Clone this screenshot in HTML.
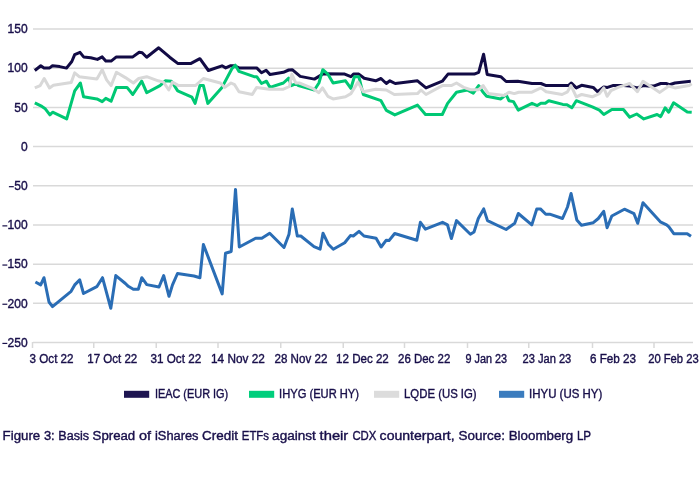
<!DOCTYPE html>
<html><head><meta charset="utf-8"><style>
html,body{margin:0;padding:0;background:#fff;}
body{width:700px;height:479px;overflow:hidden;position:relative;}
svg{position:absolute;left:0;top:0;will-change:transform;}
text{font-family:"Liberation Sans",sans-serif;fill:#180f4a;stroke:#180f4a;stroke-width:0.38px;}
</style></head><body>
<svg width="700" height="479" viewBox="0 0 700 479">

<line x1="33" y1="29.05" x2="693" y2="29.05" stroke="#d9d9d9" stroke-width="1.5"/>
<text id="y150" x="27.60" y="33.25" font-size="12" text-anchor="end">150</text>
<line x1="33" y1="68.23" x2="693" y2="68.23" stroke="#d9d9d9" stroke-width="1.5"/>
<text id="y100" x="27.60" y="72.43" font-size="12" text-anchor="end">100</text>
<line x1="33" y1="107.41" x2="693" y2="107.41" stroke="#d9d9d9" stroke-width="1.5"/>
<text id="y50" x="27.60" y="111.61" font-size="12" text-anchor="end">50</text>
<line x1="33" y1="146.60" x2="693" y2="146.60" stroke="#d9d9d9" stroke-width="1.5"/>
<text id="y0" x="27.60" y="150.80" font-size="12" text-anchor="end">0</text>
<line x1="33" y1="185.78" x2="693" y2="185.78" stroke="#d9d9d9" stroke-width="1.5"/>
<text id="y-50" x="27.60" y="189.98" font-size="12" text-anchor="end">50</text>
<rect x="8.9" y="186.09" width="4.9" height="1.2" fill="#180f4a"/>
<line x1="33" y1="224.97" x2="693" y2="224.97" stroke="#d9d9d9" stroke-width="1.5"/>
<text id="y-100" x="27.60" y="229.17" font-size="12" text-anchor="end">100</text>
<rect x="2.4" y="225.27" width="4.9" height="1.2" fill="#180f4a"/>
<line x1="33" y1="264.15" x2="693" y2="264.15" stroke="#d9d9d9" stroke-width="1.5"/>
<text id="y-150" x="27.60" y="268.35" font-size="12" text-anchor="end">150</text>
<rect x="2.4" y="264.45" width="4.9" height="1.2" fill="#180f4a"/>
<line x1="33" y1="303.34" x2="693" y2="303.34" stroke="#d9d9d9" stroke-width="1.5"/>
<text id="y-200" x="27.60" y="307.54" font-size="12" text-anchor="end">200</text>
<rect x="2.4" y="303.64" width="4.9" height="1.2" fill="#180f4a"/>
<line x1="33" y1="342.52" x2="693" y2="342.52" stroke="#d9d9d9" stroke-width="1.5"/>
<text id="y-250" x="27.60" y="346.72" font-size="12" text-anchor="end">250</text>
<rect x="2.4" y="342.82" width="4.9" height="1.2" fill="#180f4a"/>
<line x1="32.5" y1="342" x2="32.5" y2="348" stroke="#d9d9d9" stroke-width="1.5"/>
<line x1="93.75" y1="342" x2="93.75" y2="348" stroke="#d9d9d9" stroke-width="1.5"/>
<line x1="156.25" y1="342" x2="156.25" y2="348" stroke="#d9d9d9" stroke-width="1.5"/>
<line x1="218" y1="342" x2="218" y2="348" stroke="#d9d9d9" stroke-width="1.5"/>
<line x1="280.75" y1="342" x2="280.75" y2="348" stroke="#d9d9d9" stroke-width="1.5"/>
<line x1="343.25" y1="342" x2="343.25" y2="348" stroke="#d9d9d9" stroke-width="1.5"/>
<line x1="404.5" y1="342" x2="404.5" y2="348" stroke="#d9d9d9" stroke-width="1.5"/>
<line x1="467.5" y1="342" x2="467.5" y2="348" stroke="#d9d9d9" stroke-width="1.5"/>
<line x1="528.75" y1="342" x2="528.75" y2="348" stroke="#d9d9d9" stroke-width="1.5"/>
<line x1="592.5" y1="342" x2="592.5" y2="348" stroke="#d9d9d9" stroke-width="1.5"/>
<line x1="654" y1="342" x2="654" y2="348" stroke="#d9d9d9" stroke-width="1.5"/>
<text id="x0" x="29.60" y="362.60" font-size="12" textLength="43.97" lengthAdjust="spacingAndGlyphs">3 Oct 22</text>
<text id="x1" x="87.25" y="362.60" font-size="12" textLength="50.01" lengthAdjust="spacingAndGlyphs">17 Oct 22</text>
<text id="x2" x="150.51" y="362.60" font-size="12" textLength="50.64" lengthAdjust="spacingAndGlyphs">31 Oct 22</text>
<text id="x3" x="211.02" y="362.60" font-size="12" textLength="53.80" lengthAdjust="spacingAndGlyphs">14 Nov 22</text>
<text id="x4" x="274.52" y="362.60" font-size="12" textLength="52.81" lengthAdjust="spacingAndGlyphs">28 Nov 22</text>
<text id="x5" x="336.04" y="362.60" font-size="12" textLength="52.78" lengthAdjust="spacingAndGlyphs">12 Dec 22</text>
<text id="x6" x="398.00" y="362.60" font-size="12" textLength="52.30" lengthAdjust="spacingAndGlyphs">26 Dec 22</text>
<text id="x7" x="465.54" y="362.60" font-size="12" textLength="41.55" lengthAdjust="spacingAndGlyphs">9 Jan 23</text>
<text id="x8" x="522.53" y="362.60" font-size="12" textLength="48.77" lengthAdjust="spacingAndGlyphs">23 Jan 23</text>
<text id="x9" x="589.95" y="362.60" font-size="12" textLength="46.19" lengthAdjust="spacingAndGlyphs">6 Feb 23</text>
<text id="x10" x="648.20" y="362.60" font-size="12" textLength="50.50" lengthAdjust="spacingAndGlyphs">20 Feb 23</text>
<polyline fill="none" stroke="#120b45" stroke-width="3.0" stroke-linejoin="round" stroke-linecap="butt" points="34.8,70.5 40.8,65.8 44.0,67.9 49.3,68.1 52.5,65.8 59.7,66.6 66.5,68.1 71.8,61.5 74.7,54.7 80.0,52.4 83.6,56.9 90.7,57.8 97.4,59.4 102.2,56.9 105.8,61.1 111.1,61.1 116.4,56.9 132.8,56.9 139.2,52.3 142.2,52.8 146.7,57.2 158.7,47.8 169.7,57.2 177.7,63.4 191.0,63.4 199.9,58.7 208.4,70.5 222.0,65.8 225.7,67.9 230.2,65.8 234.6,65.8 239.0,67.9 256.7,67.9 261.5,72.7 266.1,70.2 270.0,74.6 283.4,72.3 288.7,70.0 292.2,69.7 300.2,76.4 314.4,79.1 319.8,75.9 323.4,73.7 344.7,74.1 350.9,76.7 353.5,74.1 358.8,74.1 364.2,78.2 375.7,80.8 381.0,78.5 386.3,83.5 389.9,80.8 395.2,83.5 417.5,80.8 426.0,87.9 442.3,81.2 448.0,74.1 474.2,74.1 478.7,72.3 483.6,54.2 487.2,74.6 500.8,76.7 506.1,81.5 517.8,81.2 532.0,83.5 540.9,83.5 546.2,85.6 568.3,85.6 571.4,83.0 576.3,87.9 581.6,85.3 593.2,87.4 597.6,91.8 603.8,87.0 607.5,87.4 612.8,85.6 623.4,85.6 629.7,86.1 637.6,87.9 643.0,85.6 648.3,86.1 653.6,86.1 660.7,83.5 666.0,83.5 669.5,84.7 674.9,83.0 690.8,81.2"/>
<polyline fill="none" stroke="#00c874" stroke-width="3.0" stroke-linejoin="round" stroke-linecap="butt" points="34.8,102.8 41.9,106.4 44.9,108.4 49.9,114.9 52.6,112.2 66.7,118.9 74.7,90.9 80.4,83.0 83.6,96.8 96.9,98.9 102.2,101.6 105.8,98.4 111.1,101.2 116.4,87.4 127.0,87.4 132.8,94.5 141.7,81.2 146.7,92.7 160.0,85.6 165.3,80.8 171.5,81.2 177.7,90.9 191.9,97.1 195.1,103.4 199.9,85.6 203.4,85.6 207.8,103.4 222.0,87.4 231.9,68.8 235.3,65.2 239.0,71.4 254.1,76.7 256.7,76.7 261.5,83.5 266.5,81.2 270.0,87.4 283.4,83.0 288.7,78.2 291.3,85.6 295.8,83.8 298.4,85.6 314.4,90.0 318.9,83.0 322.8,69.7 327.8,74.1 333.1,83.0 345.5,80.8 350.9,88.3 354.4,76.7 358.8,76.7 363.3,94.5 381.0,100.7 386.3,110.4 394.8,114.9 417.5,105.1 425.5,114.5 442.3,114.5 447.6,103.4 456.5,92.2 467.1,90.0 473.3,93.2 478.7,85.6 482.7,91.8 486.6,96.3 500.8,98.9 506.1,94.5 508.9,100.7 513.4,101.6 518.2,110.1 532.0,103.3 537.3,105.6 540.9,103.3 545.3,103.3 548.8,100.7 562.8,104.4 567.0,104.7 571.9,107.8 576.3,100.7 592.3,106.9 599.4,110.1 603.8,114.5 611.9,109.5 623.4,109.5 629.7,117.2 636.7,114.0 643.8,118.9 657.1,114.5 660.7,116.6 665.1,107.8 668.7,112.2 673.6,102.8 687.3,111.9 691.7,112.2"/>
<polyline fill="none" stroke="#d8d8d8" stroke-width="3.0" stroke-linejoin="round" stroke-linecap="butt" points="34.8,87.9 40.2,85.6 44.2,78.5 49.5,87.9 53.4,85.3 71.2,82.6 74.7,72.8 79.2,76.7 96.9,79.1 102.2,69.7 106.6,79.8 111.1,85.6 116.4,72.3 125.4,77.6 133.4,83.0 138.7,78.5 146.7,76.7 158.2,80.8 163.5,82.1 168.8,90.0 172.4,82.1 178.6,85.6 195.4,85.6 203.4,78.5 220.4,83.0 224.8,87.4 231.0,83.0 234.6,84.7 239.0,91.8 252.3,94.5 256.7,87.4 269.2,89.2 283.4,89.2 289.5,86.5 291.9,74.1 295.8,83.0 299.3,83.0 312.6,88.3 318.9,92.7 322.5,87.9 327.8,96.3 333.1,98.9 345.5,96.8 350.9,93.6 358.0,82.1 363.3,91.8 375.7,89.2 386.3,90.0 394.3,94.5 417.5,93.6 421.0,90.0 426.0,94.5 442.3,85.6 451.2,85.6 456.5,83.0 463.6,87.4 470.7,89.7 478.7,89.7 483.1,85.6 488.4,93.6 504.4,95.4 508.9,92.2 514.3,93.6 518.7,92.2 532.0,92.2 540.9,87.9 546.2,91.8 562.1,94.5 567.5,91.8 571.0,85.6 576.3,96.8 581.6,94.5 592.3,96.8 599.4,93.6 603.8,87.9 607.1,96.3 611.0,90.6 618.1,87.4 629.7,83.5 637.4,91.7 643.0,81.2 650.9,86.5 659.8,92.4 668.7,86.1 674.9,87.9 689.1,85.6 691.7,83.8"/>
<polyline fill="none" stroke="#2a6db5" stroke-width="3.0" stroke-linejoin="round" stroke-linecap="butt" points="35.4,282.0 40.7,284.9 44.0,277.7 49.0,302.0 52.5,306.6 71.1,291.3 74.7,284.9 79.7,279.9 83.5,293.5 96.8,286.7 102.5,277.7 110.8,308.3 115.8,275.6 125.4,283.5 128.3,286.3 133.3,289.2 138.3,289.2 141.8,277.7 146.8,284.6 159.0,287.0 163.7,275.6 169.0,296.3 172.5,284.9 177.5,273.5 194.0,276.0 199.9,277.8 203.4,244.5 222.2,293.9 225.5,253.3 231.2,251.5 235.5,189.4 239.3,247.0 255.6,238.2 261.8,238.2 269.7,233.2 284.0,247.5 289.0,234.2 292.3,208.9 297.3,236.0 300.8,236.0 314.0,246.7 320.1,249.2 323.0,233.2 328.3,244.2 333.3,249.2 344.7,242.7 350.4,235.6 353.3,236.0 359.0,231.3 364.0,236.0 376.1,238.2 381.1,247.0 386.1,240.3 389.0,240.6 394.7,233.5 416.8,240.3 420.4,222.3 425.4,229.2 442.5,222.3 447.5,224.9 451.4,238.5 456.5,220.6 470.4,234.2 474.0,232.0 478.3,218.5 483.7,208.9 487.5,220.6 506.1,229.5 514.7,223.2 518.3,213.5 531.8,224.9 536.8,208.9 540.4,208.9 545.8,214.2 549.7,214.2 562.5,218.5 567.5,207.0 571.1,193.5 576.8,219.9 581.5,225.2 593.3,222.7 598.3,218.5 603.7,211.3 607.1,227.7 611.8,216.0 624.4,209.2 634.0,213.7 637.7,223.3 643.0,202.7 660.3,221.8 666.6,224.8 668.9,226.8 673.8,233.7 687.2,233.7 691.0,236.3"/>
<rect x="124" y="390.8" width="25.2" height="7" fill="#1e1551"/>
<text id="l0" x="154.89" y="398.30" font-size="12" textLength="73.35" lengthAdjust="spacingAndGlyphs">IEAC (EUR IG)</text>
<rect x="249" y="390.8" width="25.2" height="7" fill="#00ce7c"/>
<text id="l1" x="279.07" y="398.30" font-size="12" textLength="79.95" lengthAdjust="spacingAndGlyphs">IHYG (EUR HY)</text>
<rect x="374" y="390.8" width="25.2" height="7" fill="#dcdcdc"/>
<text id="l2" x="404.05" y="398.30" font-size="12" textLength="72.60" lengthAdjust="spacingAndGlyphs">LQDE (US IG)</text>
<rect x="499" y="390.8" width="25.2" height="7" fill="#3b7cbe"/>
<text id="l3" x="529.04" y="398.30" font-size="12" textLength="73.20" lengthAdjust="spacingAndGlyphs">IHYU (US HY)</text>
<text id="c0" x="2.60" y="440.2" font-size="12.5" textLength="37.61" lengthAdjust="spacingAndGlyphs">Figure</text>
<text id="c1" x="43.90" y="440.2" font-size="12.5" textLength="10.80" lengthAdjust="spacingAndGlyphs">3:</text>
<text id="c2" x="58.30" y="440.2" font-size="12.5" textLength="30.80" lengthAdjust="spacingAndGlyphs">Basis</text>
<text id="c3" x="92.60" y="440.2" font-size="12.5" textLength="42.63" lengthAdjust="spacingAndGlyphs">Spread</text>
<text id="c4" x="138.90" y="440.2" font-size="12.5" textLength="12.08" lengthAdjust="spacingAndGlyphs">of</text>
<text id="c5" x="155.00" y="440.2" font-size="12.5" textLength="43.53" lengthAdjust="spacingAndGlyphs">iShares</text>
<text id="c6" x="202.10" y="440.2" font-size="12.5" textLength="35.95" lengthAdjust="spacingAndGlyphs">Credit</text>
<text id="c7" x="241.80" y="440.2" font-size="12.5" textLength="27.14" lengthAdjust="spacingAndGlyphs">ETFs</text>
<text id="c8" x="272.10" y="440.2" font-size="12.5" textLength="43.73" lengthAdjust="spacingAndGlyphs">against</text>
<text id="c9" x="319.60" y="440.2" font-size="12.5" textLength="28.70" lengthAdjust="spacingAndGlyphs">their</text>
<text id="c10" x="352.40" y="440.2" font-size="12.5" textLength="24.04" lengthAdjust="spacingAndGlyphs">CDX</text>
<text id="c11" x="379.60" y="440.2" font-size="12.5" textLength="75.09" lengthAdjust="spacingAndGlyphs">counterpart,</text>
<text id="c12" x="458.60" y="440.2" font-size="12.5" textLength="46.36" lengthAdjust="spacingAndGlyphs">Source:</text>
<text id="c13" x="508.70" y="440.2" font-size="12.5" textLength="64.49" lengthAdjust="spacingAndGlyphs">Bloomberg</text>
<text id="c14" x="576.90" y="440.2" font-size="12.5" textLength="14.25" lengthAdjust="spacingAndGlyphs">LP</text>
</svg>
</body></html>
